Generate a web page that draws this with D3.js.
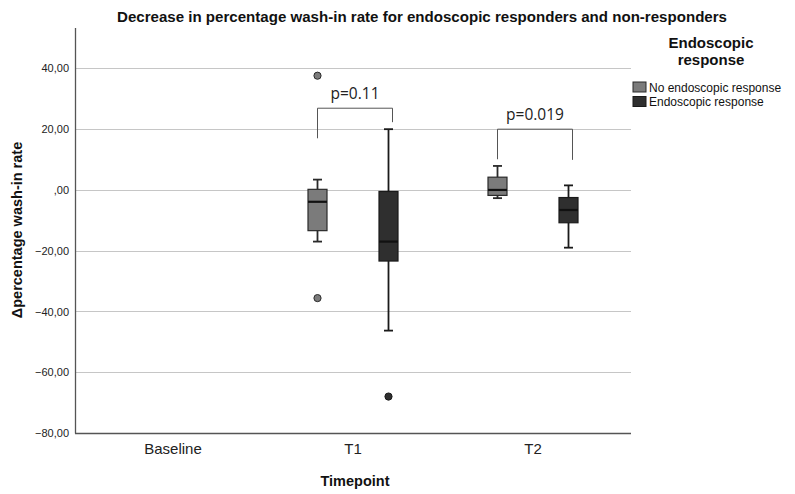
<!DOCTYPE html>
<html>
<head>
<meta charset="utf-8">
<script src="https://cdn.jsdelivr.net/npm/d3@7"></script>
<style>
  html, body { margin: 0; padding: 0; background: #fff; }
  svg { display: block; font-family: "Liberation Sans", Arial, sans-serif; }
</style>
</head>
<body>
<svg id="chart" width="795" height="494"></svg>
<script>
// Timepoints on the x axis and the two response groups
const timepoints = ["Baseline", "T1", "T2"];
const groups = ["No endoscopic response", "Endoscopic response"];

// Box statistics per timepoint: [lower whisker, Q1, median, Q3, upper whisker]
const noResponseStats = [null, [-17.0, -13.4, -3.9, 0.2, 3.4], [-2.7, -1.8, 0.0, 4.2, 7.9]];
const responseStats   = [null, [-46.3, -23.4, -17.0, -0.5, 20.0], [-19.0, -10.8, -6.6, -2.5, 1.5]];

// Outlying values per timepoint
const noResponseOutliers = [[], [37.6, -35.6], []];
const responseOutliers   = [[], [-68.0], []];

// Significance brackets: label, bar level, left leg end, right leg end
const pLabels     = [null, "p=0.11", "p=0.019"];
const bracketTop  = [null, 26.9, 20.0];
const bracketLeft = [null, 17.0, 10.1];
const bracketRight= [null, 22.3, 9.9];

// Y axis tick values
const yTicks = [40, 20, 0, -20, -40, -60, -80];
const fmt = v => (v === 0 ? ",00" : d3.format(".2f")(v).replace(".", ","));

const svg = d3.select("#chart");
const plot = { left: 75, right: 631, top: 28, bottom: 433 };

const y = d3.scaleLinear().domain([-80, 53.3]).range([plot.bottom, plot.top]);
const x = d3.scaleBand().domain(timepoints).range([83, 623]);
const xg = d3.scalePoint().domain(groups).range([-35.5, 35.5]);
const fill = d3.scaleOrdinal().domain(groups).range(["#7b7b7b", "#2f2f2f"]);
const stroke = d3.scaleOrdinal().domain(groups).range(["#2a2a2a", "#1a1a1a"]);
const boxW = 19, capW = 9;

// Horizontal gridlines
svg.append("g")
  .selectAll("line")
  .data(yTicks.filter(t => t > -80))
  .join("line")
  .attr("x1", plot.left).attr("x2", plot.right)
  .attr("y1", d => Math.round(y(d)) + 0.5).attr("y2", d => Math.round(y(d)) + 0.5)
  .attr("stroke", "#c6c6c6").attr("stroke-width", 1.2);

// Y axis
const yAxis = d3.axisLeft(y).tickValues(yTicks).tickFormat(fmt).tickSize(0).tickPadding(6);
const gy = svg.append("g").attr("transform", `translate(${plot.left},0)`).call(yAxis);
gy.select(".domain").remove();
gy.selectAll("text").attr("font-size", 11).attr("fill", "#222")
  .attr("font-family", "Liberation Sans, Arial, sans-serif");

// X axis
const xAxis = d3.axisBottom(x).tickSize(0).tickPadding(10);
const gx = svg.append("g").attr("transform", `translate(0,${plot.bottom})`).call(xAxis);
gx.select(".domain").remove();
gx.selectAll("text").attr("font-size", 15).attr("fill", "#222")
  .attr("font-family", "Liberation Sans, Arial, sans-serif");

// Axis lines
svg.append("line").attr("x1", plot.left + 0.5).attr("x2", plot.left + 0.5)
  .attr("y1", plot.top).attr("y2", plot.bottom + 0.5)
  .attr("stroke", "#555").attr("stroke-width", 1.3);
svg.append("line").attr("x1", plot.left).attr("x2", plot.right)
  .attr("y1", plot.bottom + 0.5).attr("y2", plot.bottom + 0.5)
  .attr("stroke", "#555").attr("stroke-width", 1.3);

// Boxplots
const statsByGroup = [noResponseStats, responseStats];
const outliersByGroup = [noResponseOutliers, responseOutliers];
const boxes = [];
const points = [];
groups.forEach((g, gi) => {
  timepoints.forEach((t, ti) => {
    const s = statsByGroup[gi][ti];
    if (s) boxes.push({ g, t, s });
    outliersByGroup[gi][ti].forEach(v => points.push({ g, t, v }));
  });
});

const cx = d => x(d.t) + x.bandwidth() / 2 + xg(d.g);

const bg = svg.append("g").selectAll("g").data(boxes).join("g");
// whisker stems
bg.append("line")
  .attr("x1", cx).attr("x2", cx)
  .attr("y1", d => y(d.s[4])).attr("y2", d => y(d.s[3]))
  .attr("stroke", d => stroke(d.g)).attr("stroke-width", 1.8);
bg.append("line")
  .attr("x1", cx).attr("x2", cx)
  .attr("y1", d => y(d.s[1])).attr("y2", d => y(d.s[0]))
  .attr("stroke", d => stroke(d.g)).attr("stroke-width", 1.8);
// caps
[0, 4].forEach(k => {
  bg.append("line")
    .attr("x1", d => cx(d) - capW / 2).attr("x2", d => cx(d) + capW / 2)
    .attr("y1", d => y(d.s[k])).attr("y2", d => y(d.s[k]))
    .attr("stroke", d => stroke(d.g)).attr("stroke-width", 1.8);
});
// box
bg.append("rect")
  .attr("x", d => cx(d) - boxW / 2).attr("width", boxW)
  .attr("y", d => y(d.s[3])).attr("height", d => y(d.s[1]) - y(d.s[3]))
  .attr("fill", d => fill(d.g)).attr("stroke", d => stroke(d.g)).attr("stroke-width", 1.2);
// median
bg.append("line")
  .attr("x1", d => cx(d) - boxW / 2).attr("x2", d => cx(d) + boxW / 2)
  .attr("y1", d => y(d.s[2])).attr("y2", d => y(d.s[2]))
  .attr("stroke", "#111").attr("stroke-width", 2.2);

// outliers
svg.append("g").selectAll("circle").data(points).join("circle")
  .attr("cx", cx).attr("cy", d => y(d.v)).attr("r", 3.6)
  .attr("fill", d => fill(d.g)).attr("stroke", d => stroke(d.g)).attr("stroke-width", 1);

// Significance brackets
const br = timepoints.map((t, i) => ({ t, i })).filter(d => pLabels[d.i]);
const bgr = svg.append("g").selectAll("g").data(br).join("g");
const lx = d => x(d.t) + x.bandwidth() / 2 + xg(groups[0]);
const rx = d => x(d.t) + x.bandwidth() / 2 + xg(groups[1]) + 4;
bgr.append("path")
  .attr("d", d => `M${lx(d)},${y(bracketLeft[d.i])}V${y(bracketTop[d.i])}H${rx(d)}V${y(bracketRight[d.i])}`)
  .attr("fill", "none").attr("stroke", "#555").attr("stroke-width", 1);
bgr.append("text")
  .attr("x", d => (lx(d) + rx(d)) / 2)
  .attr("y", d => y(bracketTop[d.i]) - 9)
  .attr("text-anchor", "middle")
  .attr("font-family", "Open Sans, sans-serif").attr("font-size", 15.5).attr("fill", "#222")
  .text(d => pLabels[d.i]);

// Title
svg.append("text").attr("x", 422).attr("y", 22).attr("text-anchor", "middle")
  .attr("font-size", 15).attr("font-weight", "bold").attr("fill", "#111")
  .attr("textLength", 610).attr("lengthAdjust", "spacingAndGlyphs")
  .text("Decrease in percentage wash-in rate for endoscopic responders and non-responders");

// Axis titles
svg.append("text").attr("transform", "translate(22,230) rotate(-90)")
  .attr("text-anchor", "middle").attr("font-size", 14.5).attr("font-weight", "bold").attr("fill", "#111")
  .text("Δpercentage wash-in rate");
svg.append("text").attr("x", 355).attr("y", 486).attr("text-anchor", "middle")
  .attr("font-size", 14.5).attr("font-weight", "bold").attr("fill", "#111")
  .text("Timepoint");

// Legend
const lg = svg.append("g");
lg.append("text").attr("x", 711).attr("y", 48).attr("text-anchor", "middle")
  .attr("font-size", 15).attr("font-weight", "bold").attr("fill", "#111").text("Endoscopic");
lg.append("text").attr("x", 711).attr("y", 65).attr("text-anchor", "middle")
  .attr("font-size", 15).attr("font-weight", "bold").attr("fill", "#111").text("response");
const items = lg.selectAll("g.item").data(groups).join("g").attr("class", "item")
  .attr("transform", (d, i) => `translate(633,${82 + i * 14.5})`);
items.append("rect").attr("width", 13).attr("height", 10)
  .attr("fill", d => fill(d)).attr("stroke", d => stroke(d)).attr("stroke-width", 1);
items.append("text").attr("x", 16).attr("y", 9.5)
  .attr("font-size", 12).attr("fill", "#111").text(d => d);
</script>
</body>
</html>
